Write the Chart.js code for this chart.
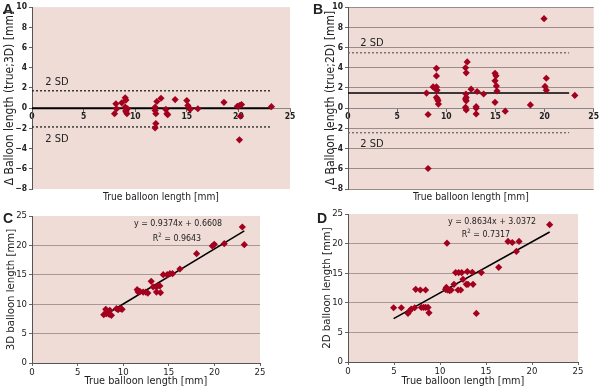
<!DOCTYPE html>
<html>
<head>
<meta charset="utf-8">
<script src="https://cdn.jsdelivr.net/npm/chart.js@4.4.1/dist/chart.umd.min.js"></script>
<style>
  body { margin: 0; background: #fff; }
  #page { position: relative; width: 600px; height: 387px; overflow: hidden;
          font-family: "DejaVu Sans Condensed", "DejaVu Sans", sans-serif; color: #222; }
  canvas { position: absolute; }
  .lbl { position: absolute; transform: translate(-50%, -50%); white-space: nowrap; }
  .panel { font-weight: bold; font-size: 14px; font-family: "Liberation Sans", Arial, sans-serif; }
  .sd { font-size: 11px; }
  .eq { font-size: 8.8px; }
  .eq sup { font-size: 6px; }
</style>
</head>
<body>
<div id="page">
  <canvas id="chartA" width="300" height="202" style="left:0;top:0"></canvas>
  <canvas id="chartB" width="280" height="202" style="left:320px;top:0"></canvas>
  <canvas id="chartC" width="300" height="185" style="left:0;top:202px"></canvas>
  <canvas id="chartD" width="280" height="185" style="left:320px;top:202px"></canvas>

  <div class="lbl panel" style="left:8px;top:9px">A</div>
  <div class="lbl panel" style="left:318px;top:9px">B</div>
  <div class="lbl panel" style="left:8px;top:218px">C</div>
  <div class="lbl panel" style="left:322px;top:218px">D</div>

  <div class="lbl sd" style="left:57px;top:81px">2 SD</div>
  <div class="lbl sd" style="left:57px;top:138px">2 SD</div>
  <div class="lbl sd" style="left:372px;top:42px">2 SD</div>
  <div class="lbl sd" style="left:372px;top:143px">2 SD</div>

  <div class="lbl eq" style="left:178px;top:223px">y = 0.9374x + 0.6608</div>
  <div class="lbl eq" style="left:177px;top:237px">R<sup>2</sup> = 0.9643</div>
  <div class="lbl eq" style="left:492px;top:221px">y = 0.8634x + 3.0372</div>
  <div class="lbl eq" style="left:486px;top:233px">R<sup>2</sup> = 0.7317</div>
</div>

<script>
// --- datos ---
// A: diferencia true - 3D frente a longitud real
const aX = [8.0, 8.13, 8.2, 8.7, 9.03, 9.1, 9.03, 9.1, 9.2, 9.25, 9.1, 11.93, 11.93, 12.0, 12.0, 11.93, 12.1, 12.5,
            12.97, 13.07, 13.15, 13.87, 15.0, 15.1, 15.26, 15.32, 16.07, 18.6, 19.9, 20.1, 20.3, 20.2, 20.1, 23.2];
const aY = [-0.55, 0.43, -0.06, 0.53, 1.02, 0.8, 0.1, -0.22, -0.55, -0.06, -0.35, 0.1, -0.22, -0.55, -1.53, -1.96, 0.66, 0.98,
            -0.13, -0.55, -0.65, 0.85, 0.75, 0.26, 0, -0.13, -0.06, 0.58, 0.19, 0.25, 0.35, -0.8, -3.13, 0.15];
const aMean = 0, aSdUp = 1.72, aSdLow = -1.86, aLineEnd = 23.2;

// B: diferencia true - 2D
const bX = [7.99, 8.15, 8.15, 8.66, 8.83, 9.0, 9.0, 9.0, 9.06, 9.0, 9.1, 9.16, 9.2, 11.96, 12.03, 12.13, 12.0, 12.03,
            11.96, 12.03, 11.96, 12.03, 12.53, 13.04, 13.04, 13.04, 13.14, 13.8, 14.96, 15.06, 14.96, 15.1, 15.16,
            14.96, 16.0, 18.56, 19.95, 20.05, 20.18, 20.18, 23.08];
const bY = [1.49, -0.63, -5.97, 2.1, 1.98, 3.94, 3.19, 2.1, 1.78, 1.06, 0.9, 0.74, 0.4, 4.0, 3.5, 4.57, 1.4, 1.06,
            0.9, 0.73, 0.08, -0.18, 1.88, 0.15, 0, -0.57, 1.65, 1.4, 3.45, 3.2, 2.7, 2.2, 1.7,
            0.58, -0.3, 0.32, 8.85, 2.15, 1.78, 2.96, 1.26];
const bMean = 1.49, bSdUp = 5.48, bSdLow = -2.43, bLineEnd = 22.5;

// C: 3D frente a true
const cX = [7.87, 8.09, 8.24, 8.46, 8.71, 8.16, 8.53, 9.26, 9.44, 9.7, 9.88, 11.53, 11.64, 11.82, 12.19, 12.48, 12.7,
            13.07, 13.29, 13.65, 13.76, 14.02, 13.65, 14.09, 14.39, 14.82, 15.12, 15.41, 16.22, 18.05, 19.77, 19.99,
            21.08, 23.06, 23.28];
const cY = [8.22, 9.13, 8.84, 8.28, 8.1, 8.39, 8.96, 9.24, 9.07, 9.24, 9.13, 12.47, 12.07, 12.19, 12.07, 12.07, 11.9,
            13.89, 12.93, 12.93, 13.1, 13.1, 12.07, 11.96, 15.02, 15.02, 15.19, 15.19, 15.99, 18.59, 19.9, 20.18,
            20.3, 23.13, 20.12];
const cSlope = 0.9374, cIntercept = 0.6608;

// D: 2D frente a true
const dX = [4.96, 5.8, 6.52, 6.7, 6.88, 7.25, 7.36, 7.86, 8.44, 7.97, 8.22, 8.44, 8.7, 8.8, 10.76, 10.6, 10.69, 10.8,
            11.05, 11.23, 11.52, 11.7, 12.03, 12.36, 11.96, 12.25, 12.5, 12.97, 13.51, 12.86, 13.04, 13.59, 13.95,
            14.49, 16.38, 17.39, 17.86, 18.59, 18.3, 21.92];
const dY = [9.16, 9.16, 8.2, 8.65, 8.94, 9.16, 12.27, 12.16, 12.16, 9.22, 9.22, 9.22, 9.22, 8.31, 20.08, 12.27, 12.6, 12.16,
            12.05, 12.16, 13.12, 15.1, 15.1, 15.1, 12.16, 12.16, 13.97, 15.27, 15.16, 13.12, 13.12, 13.12, 8.2,
            15.1, 16.0, 20.36, 20.19, 20.36, 18.67, 23.19];
const dSlope = 0.8634, dIntercept = 3.0372;

const xTitle = 'True balloon length [mm]';
const diffTicks = [-8, -6, -4, -2, 0, 2, 4, 6, 8, 10];
const lenTicks = [0, 5, 10, 15, 20, 25];

const PINK = '#efdcd6';
const RED = '#a3001f';
const GRID = '#a89893';
const NONE = 'rgba(0,0,0,0)';
const FONT = '"DejaVu Sans Condensed", "DejaVu Sans", sans-serif';

Chart.defaults.font.family = FONT;
Chart.defaults.color = '#222';

const plotBg = {
  id: 'plotBg',
  beforeDraw(chart) {
    const {ctx, chartArea: a} = chart;
    ctx.save();
    ctx.fillStyle = PINK;
    ctx.fillRect(a.left, a.top, a.width, a.height);
    ctx.restore();
  }
};

const pts = (xs, ys) => xs.map((x, i) => ({x: x, y: ys[i]}));
const minus = (v) => String(v).replace('-', '\u2212');

function pointSet(xs, ys) {
  return {
    data: pts(xs, ys),
    pointStyle: 'rectRot',
    pointRadius: 3.6,
    pointBorderWidth: 0,
    backgroundColor: RED,
    borderColor: RED
  };
}

function hLine(y, xEnd, color, width, dash) {
  return {
    type: 'line',
    data: [{x: 0, y: y}, {x: xEnd, y: y}],
    borderColor: color,
    borderWidth: width,
    borderDash: dash || [],
    pointRadius: 0
  };
}

// grafica tipo Bland-Altman (A y B)
function diffChart(id, xs, ys, mean, sdUp, sdLow, lineEnd, yLabel, opts) {
  new Chart(document.getElementById(id), {
    type: 'scatter',
    data: {
      datasets: [
        pointSet(xs, ys),
        hLine(mean, lineEnd, '#000', opts.meanWidth),
        hLine(sdUp, lineEnd, opts.sdColor, 1.3, [2, 2]),
        hLine(sdLow, lineEnd, opts.sdColor, 1.3, [2, 2])
      ]
    },
    options: {
      responsive: false,
      animation: false,
      layout: {padding: opts.padding},
      plugins: {legend: {display: false}, tooltip: {enabled: false}},
      scales: {
        x: {
          type: 'linear', position: {y: 0}, min: 0, max: 25,
          afterBuildTicks: (axis) => { axis.ticks = lenTicks.map(v => ({value: v})); },
          ticks: {font: {size: 8.5, weight: 'bold'}, padding: 1, maxRotation: 0},
          grid: {drawOnChartArea: false, tickLength: 3, tickColor: '#666'},
          border: {color: '#888', width: 1}
        },
        xt: {
          type: 'linear', position: 'bottom', min: 0, max: 25,
          ticks: {display: false},
          grid: {display: false},
          border: {display: false},
          title: {display: true, text: xTitle, font: {size: 10.2, lineHeight: 1}, padding: 0},
          afterFit: (axis) => { axis.height = 13; }
        },
        y: {
          min: -8, max: 10,
          afterBuildTicks: (axis) => { axis.ticks = diffTicks.map(v => ({value: v})); },
          ticks: {font: {size: 8.5, weight: 'bold'}, padding: 2, callback: minus},
          grid: {
            color: (c) => (opts.grid && c.tick && c.tick.value !== 0) ? opts.gridColor : NONE,
            tickColor: '#666', tickLength: 3
          },
          border: {color: '#555', width: 1},
          title: {display: true, text: yLabel, font: {size: 12, lineHeight: 1}, padding: {top: opts.titlePad, bottom: 0}},
          afterFit: (axis) => { axis.width = opts.yWidth; }
        }
      }
    },
    plugins: [plotBg]
  });
}

// grafica de correlacion (C y D)
function corrChart(id, xs, ys, slope, intercept, yLabel, opts) {
  const x0 = Math.min(...xs), x1 = Math.max(...xs);
  new Chart(document.getElementById(id), {
    type: 'scatter',
    data: {
      datasets: [
        pointSet(xs, ys),
        {
          type: 'line',
          data: [{x: x0, y: slope * x0 + intercept}, {x: x1, y: slope * x1 + intercept}],
          borderColor: '#000', borderWidth: 1.5, pointRadius: 0
        }
      ]
    },
    options: {
      responsive: false,
      animation: false,
      layout: {padding: opts.padding},
      plugins: {legend: {display: false}, tooltip: {enabled: false}},
      scales: {
        x: {
          min: 0, max: 25,
          afterBuildTicks: (axis) => { axis.ticks = lenTicks.map(v => ({value: v})); },
          ticks: {font: {size: 9.5}, padding: 1, maxRotation: 0},
          grid: {drawOnChartArea: false, tickLength: 3, tickColor: '#666'},
          border: {color: '#555', width: 1},
          title: {display: true, text: xTitle, font: {size: 10.8, lineHeight: 1}, padding: 0},
          afterFit: (axis) => { axis.height = opts.xHeight; }
        },
        y: {
          min: 0, max: 25,
          afterBuildTicks: (axis) => { axis.ticks = lenTicks.map(v => ({value: v})); },
          ticks: {font: {size: 9.5}, padding: 2},
          grid: {
            color: (c) => (c.tick && (c.tick.value === 0 || c.tick.value === 25)) ? NONE : GRID,
            tickColor: '#666', tickLength: 3
          },
          border: {color: '#555', width: 1},
          title: {display: true, text: yLabel, font: {size: 11.3, lineHeight: 1}, padding: {top: opts.titlePad, bottom: 0}},
          afterFit: (axis) => { axis.width = opts.yWidth; }
        }
      }
    },
    plugins: [plotBg]
  });
}

document.addEventListener('DOMContentLoaded', () => {
  diffChart('chartA', aX, aY, aMean, aSdUp, aSdLow, aLineEnd, '\u0394 Balloon length (true;3D) [mm]',
    {padding: {top: 5, right: 10, left: 0, bottom: 0}, yWidth: 32, titlePad: 4, grid: false, gridColor: GRID, meanWidth: 2, sdColor: '#222'});
  diffChart('chartB', bX, bY, bMean, bSdUp, bSdLow, bLineEnd, '\u0394 Balloon length (true;2D) [mm]',
    {padding: {top: 5, right: 5, left: 0, bottom: 0}, yWidth: 28, titlePad: 5, grid: true, gridColor: '#9c8c87', meanWidth: 1.5, sdColor: '#666'});
  corrChart('chartC', cX, cY, cSlope, cIntercept, '3D balloon length [mm]',
    {padding: {top: 14, right: 40, left: 0, bottom: 0}, yWidth: 32, xHeight: 24, titlePad: 5});
  corrChart('chartD', dX, dY, dSlope, dIntercept, '2D balloon length [mm]',
    {padding: {top: 12, right: 22, left: 0, bottom: 0}, yWidth: 28, xHeight: 25, titlePad: 1});
});
</script>
</body>
</html>
